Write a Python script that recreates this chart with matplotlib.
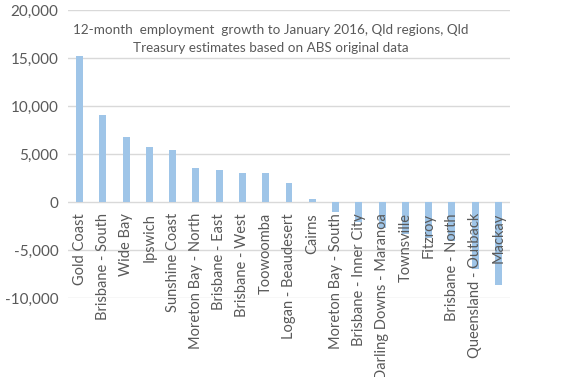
import matplotlib.pyplot as plt

regions = ["Gold Coast", "Brisbane - South", "Wide Bay", "Ipswich", "Sunshine Coast",
           "Moreton Bay - North", "Brisbane - East", "Brisbane - West", "Toowoomba",
           "Logan - Beaudesert", "Cairns", "Moreton Bay - South", "Brisbane - Inner City",
           "Darling Downs - Maranoa", "Townsville", "Fitzroy", "Brisbane - North",
           "Queensland - Outback", "Mackay"]
growth = [15200, 9100, 6800, 5750, 5450, 3550, 3350, 3050, 3000, 2000, 300,
          -1050, -2050, -2750, -3350, -3700, -4100, -7000, -8650]
yticks = [-10000, -5000, 0, 5000, 10000, 15000, 20000]

plt.rcParams['font.family'] = ['Lato', 'DejaVu Sans']
txt = "#595959"

fig = plt.figure(figsize=(5.62, 3.77), dpi=100)
ax = fig.add_axes([68/562, 1 - 298/377, 442/562, 288/377])

x = range(len(regions))
ax.bar(x, growth, width=0.3, color="#9fc5e8", zorder=2)
ax.set_xlim(-0.5, len(regions) - 0.5)
ax.set_ylim(-10000, 20000)
ax.set_yticks(yticks)
ax.set_yticklabels([f"{v:,}" for v in yticks], color=txt, fontsize=11)
ax.set_xticks([])
ax.tick_params(axis='y', length=0, pad=7)
ax.grid(axis='y', color="#d9d9d9", linewidth=1, zorder=0)
for s in ax.spines.values():
    s.set_visible(False)

for i, name in enumerate(regions):
    ax.annotate(name, (i, 0), textcoords="offset points", xytext=(0, -8),
                rotation=90, ha='center', va='top', fontsize=10.5, color=txt,
                zorder=3, annotation_clip=False)

fig.text(271/562, 1 - 39/377,
         "12-month  employment  growth to January 2016, Qld regions, Qld\nTreasury estimates based on ABS original data",
         ha='center', va='center', fontsize=9.7, color=txt, linespacing=1.6)

fig.savefig("out.png", dpi=100)
